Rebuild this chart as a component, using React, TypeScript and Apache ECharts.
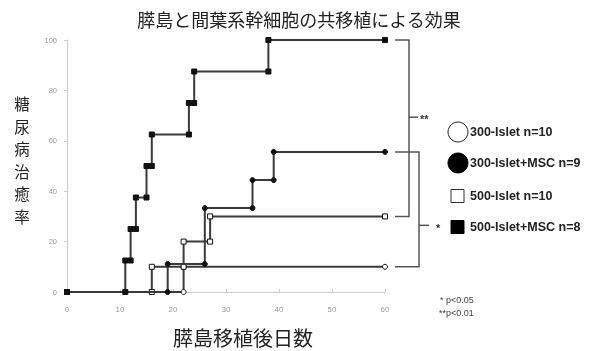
import React, { useEffect, useRef } from 'react';
import * as echarts from 'echarts';

const titleText = '膵島と間葉系幹細胞の共移植による効果';
const xAxisName = '膵島移植後日数';
const yAxisName = '糖尿病治癒率';

const xMin = 0;
const xMax = 60;
const xStep = 10;
const yMin = 0;
const yMax = 100;
const yStep = 20;

const seriesNames = ['300-Islet n=10', '300-Islet+MSC n=9', '500-Islet n=10', '500-Islet+MSC n=8'];

const days300 = [0, 22, 60];
const rate300 = [0, 10, 10];
const days300MSC = [0, 19, 26, 35, 39, 60];
const rate300MSC = [0, 11.1, 33.3, 44.4, 55.6, 55.6];
const days500 = [0, 16, 22, 27, 60];
const rate500 = [0, 10, 20, 30, 30];
const days500MSC = [0, 11, 12, 13, 15, 16, 23, 24, 38, 60];
const rate500MSC = [0, 12.5, 25, 37.5, 50, 62.5, 75, 87.5, 100, 100];

const footnotes = ['* p<0.05', '**p<0.01'];
const sigMarks = ['**', '*'];

function steps(days: number[], rates: number[]) {
  const pts: number[][] = [[days[0], rates[0]]];
  for (let i = 1; i < days.length; i++) {
    const prev = rates[i - 1];
    pts.push([days[i], prev]);
    if (rates[i] !== prev) pts.push([days[i], rates[i]]);
  }
  return pts;
}

const LINE = '#3a3a3a';
const JP = '"Noto Sans CJK JP", "Noto Sans", sans-serif';
const LAT = '"Liberation Sans", Arial, sans-serif';

export default function App() {
  const ref = useRef<HTMLDivElement>(null);
  useEffect(() => {
    if (!ref.current) return;
    const chart = echarts.init(ref.current, undefined, { renderer: 'svg' });
    const mk = (name: string, data: number[][], symbol: string, fill: string, z: number) => ({
      name,
      type: 'line',
      data,
      symbol,
      symbolSize: 5,
      showSymbol: true,
      z,
      lineStyle: { color: LINE, width: 2 },
      itemStyle: { color: fill, borderColor: '#111', borderWidth: 1 },
      emphasis: { disabled: true },
    });
    chart.setOption({
      animation: false,
      title: {
        text: titleText,
        left: 'center',
        top: 5,
        textStyle: { fontFamily: JP, fontSize: 18, fontWeight: 'normal', color: '#222' },
      },
      grid: { left: 67, right: 213, top: 40, bottom: 59, containLabel: false },
      xAxis: {
        type: 'value',
        min: xMin,
        max: xMax,
        interval: xStep,
        splitLine: { show: false },
        axisLine: { show: true, lineStyle: { color: '#ccc', width: 1 } },
        axisTick: { show: true, inside: true, length: 3, lineStyle: { color: '#ccc' } },
        axisLabel: { color: '#999', fontSize: 8, fontFamily: LAT, margin: 13 },
      },
      yAxis: {
        type: 'value',
        min: yMin,
        max: yMax,
        interval: yStep,
        splitLine: { show: false },
        axisLine: { show: true, lineStyle: { color: '#ccc', width: 1 } },
        axisTick: { show: true, length: 3, lineStyle: { color: '#ccc' } },
        axisLabel: { color: '#999', fontSize: 7.5, fontFamily: LAT, margin: 10 },
      },
      series: [
        mk(seriesNames[0], steps(days300, rate300), 'circle', '#fff', 2),
        mk(seriesNames[2], steps(days500, rate500), 'rect', '#fff', 3),
        mk(seriesNames[1], steps(days300MSC, rate300MSC), 'circle', '#111', 4),
        mk(seriesNames[3], steps(days500MSC, rate500MSC), 'rect', '#111', 5),
      ],
    });

    const px = (v: number) => chart.convertToPixel({ xAxisIndex: 0, yAxisIndex: 0 }, [xMax, v]) as number[];
    const pTop1 = px(rate500MSC[rate500MSC.length - 1]);
    const pBot1 = px(rate500[rate500.length - 1]);
    const pTop2 = px(rate300MSC[rate300MSC.length - 1]);
    const pBot2 = px(rate300[rate300.length - 1]);
    const x0 = pTop1[0] + 10;
    const xa = x0 + 14;
    const xb = x0 + 24;
    const bs = { stroke: '#555', lineWidth: 1.5, fill: 'none' };
    const mid1 = (pTop1[1] + pBot1[1]) / 2 - 11;
    const mid2 = (pTop2[1] + pBot2[1]) / 2 + 16;

    const legendX = 451;
    const legendRows = [132, 163, 196, 227];
    const textX = 470;

    const yChars = yAxisName.split('');
    const yStart = 103;
    const yGap = 22.6;

    chart.setOption({
      graphic: [
        { type: 'polyline', shape: { points: [[x0, pTop1[1]], [xa, pTop1[1]], [xa, pBot1[1]], [x0, pBot1[1]]] }, style: bs },
        { type: 'line', shape: { x1: xa, y1: mid1, x2: xa + 9, y2: mid1 }, style: bs },
        { type: 'text', x: xa + 11, y: mid1 + 2, style: { text: sigMarks[0], font: `bold 11px ${LAT}`, fill: '#333', verticalAlign: 'middle' } },
        { type: 'polyline', shape: { points: [[x0, pTop2[1]], [xb, pTop2[1]], [xb, pBot2[1]], [x0, pBot2[1]]] }, style: bs },
        { type: 'line', shape: { x1: xb, y1: mid2, x2: xb + 10, y2: mid2 }, style: bs },
        { type: 'text', x: xb + 17, y: mid2 + 3, style: { text: sigMarks[1], font: `bold 11px ${LAT}`, fill: '#333', verticalAlign: 'middle' } },

        { type: 'circle', shape: { cx: legendX + 7, cy: legendRows[0], r: 10 }, style: { fill: '#fff', stroke: '#222', lineWidth: 1 } },
        { type: 'circle', shape: { cx: legendX + 7, cy: legendRows[1], r: 10 }, style: { fill: '#000', stroke: '#000', lineWidth: 1 } },
        { type: 'rect', shape: { x: legendX, y: legendRows[2] - 6.5, width: 13, height: 13 }, style: { fill: '#fff', stroke: '#333', lineWidth: 1 } },
        { type: 'rect', shape: { x: legendX, y: legendRows[3] - 6.5, width: 13, height: 13 }, style: { fill: '#000', stroke: '#000', lineWidth: 1 } },
        ...seriesNames.map((n, i) => ({
          type: 'text',
          x: textX,
          y: legendRows[i],
          style: { text: n, font: `bold 12.5px ${LAT}`, fill: '#222', verticalAlign: 'middle' },
        })),

        { type: 'text', x: 440, y: 300, style: { text: footnotes[0], font: `9px ${LAT}`, fill: '#444', verticalAlign: 'middle' } },
        { type: 'text', x: 439, y: 313, style: { text: footnotes[1], font: `9px ${LAT}`, fill: '#444', verticalAlign: 'middle' } },

        { type: 'text', x: 243, y: 337, style: { text: xAxisName, font: `20px ${JP}`, lineHeight: 20, fill: '#222', align: 'center', verticalAlign: 'middle' } },
        ...yChars.map((c, i) => ({
          type: 'text',
          x: 22,
          y: yStart + i * yGap,
          style: { text: c, font: `15.5px ${JP}`, lineHeight: 16, fill: '#222', align: 'center', verticalAlign: 'middle' },
        })),
      ],
    });
    return () => chart.dispose();
  }, []);
  return <div ref={ref} style={{ position: 'fixed', left: 0, top: 0, width: 598, height: 351 }} />;
}
